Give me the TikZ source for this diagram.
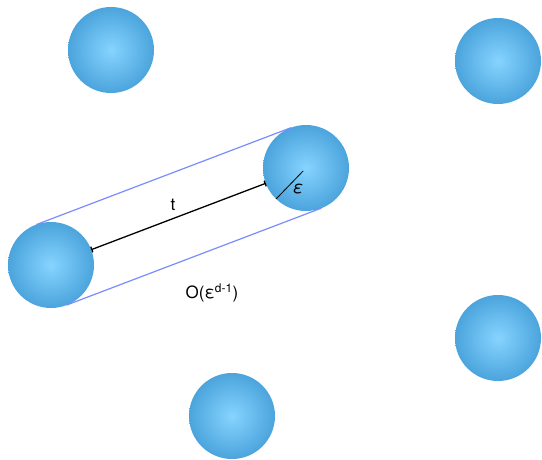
\documentclass[tikz,border=0pt]{standalone}
\usepackage{fontspec}
\setmainfont{TeX Gyre Heros}
\usetikzlibrary{arrows.meta}
\definecolor{ballin}{HTML}{86D4FF}
\definecolor{ballout}{HTML}{4BA4DC}
\definecolor{tubeline}{HTML}{7A8CFF}
\tikzset{
  ball/.style={circle,minimum size=86pt,inner sep=0pt,outer sep=0pt,shading=radial,inner color=ballin,outer color=ballout},
  tube/.style={tubeline,line width=1.2pt},
  label/.style={font=\fontsize{17}{20}\selectfont,inner sep=1pt}
}
\begin{document}
\begin{tikzpicture}[x=1pt,y=-1pt]
\path[use as bounding box,fill=white] (0,0) rectangle (542,460);
% balls
\node[ball] (ballA) at (111,50) {};
\node[ball] (ballB) at (498,61) {};
\node[ball] (ballM) at (306,168) {};
\node[ball] (ballL) at (51,265) {};
\node[ball] (ballC) at (498,338) {};
\node[ball] (ballD) at (232,416) {};
% tube around the segment
\draw[tube] (ballL.110.8) -- (ballM.110.8);
\draw[tube] (ballL.-69.2) -- (ballM.-69.2);
% length t
\draw[line width=1.3pt,{Bar[width=6pt]}-{Bar[width=6pt]}] (ballL) -- (ballM);
\node[label] (tlab) at (173,205) {t};
% radius
\draw[line width=.8pt,shorten <=4pt] (ballM.center) -- (ballM.226);
\node[label] (epslab) at (298,189) {\textit{ε}};
\node[label] (vollab) at (212,293) {O(ε\textsuperscript{d-1})};
\end{tikzpicture}
\end{document}
